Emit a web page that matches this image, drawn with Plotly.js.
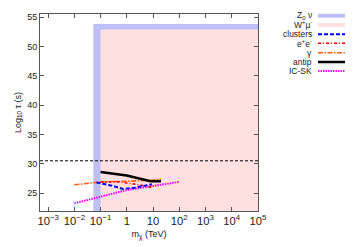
<!DOCTYPE html>
<html><head><meta charset="utf-8">
<script src="https://cdn.plot.ly/plotly-3.0.1.min.js"></script>
<style>html,body{margin:0;padding:0;background:#fff}#plot{width:356px;height:250px}</style>
</head><body><div id="plot"></div>
<script>
// Excluded regions (mass in TeV, log10 tau)
var zRegionMass = [0.053, 1e6, 1e6, 0.053];
var zRegionTau  = [0, 0, 53.85, 53.85];
var wRegionMass = [0.1, 1e6, 1e6, 0.1];
var wRegionTau  = [0, 0, 52.9, 52.9];
var ageLimit = 30.5;

var clustersMass = [0.07, 0.3, 0.7, 2, 9];
var clustersTau  = [26.8, 26.2, 25.7, 25.9, 26.5];
var eeMass = [0.1, 0.5, 1, 3, 10];
var eeTau  = [26.9, 26.9, 26.7, 26.4, 25.9];
var gammaMass = [0.01, 0.1, 1, 10, 20];
var gammaTau  = [26.4, 26.9, 27.0, 27.2, 27.4];
var antipMass = [0.1, 1, 8, 20];
var antipTau  = [28.6, 28.0, 27.0, 27.0];
var icskMass = [0.01, 0.1, 1, 10, 100];
var icskTau  = [23.25, 24.4, 25.5, 26.2, 26.9];

var legendNames = ["Z<sub>0</sub> ν", "W<sup>+</sup>μ<sup>-</sup>", "clusters", "e<sup>+</sup>e<sup>-</sup>", "γ", "antip", "IC-SK"];

var cBlue = "rgb(190,190,248)", cPink = "rgb(255,224,224)";
var styles = {
  clusters: {color: "#0000ff", width: 2, dash: "4px,2px"},
  ee: {color: "#ff0000", width: 1.6, dash: "3px,2px,1px,2px"},
  gamma: {color: "#ff6010", width: 1.6, dash: "5px,1.5px,1.5px,1.5px"},
  antip: {color: "#000000", width: 2.5, dash: "solid"},
  icsk: {color: "#ff00ff", width: 2, dash: "1.5px,1px"}
};

var traces = [
  {x: zRegionMass, y: zRegionTau, type: "scatter", mode: "lines", fill: "toself", fillcolor: cBlue, line: {width: 0}, name: "Z0 ν", hoverinfo: "skip"},
  {x: wRegionMass, y: wRegionTau, type: "scatter", mode: "lines", fill: "toself", fillcolor: cPink, line: {width: 0}, name: "W+μ-", hoverinfo: "skip"},
  {x: icskMass, y: icskTau, type: "scatter", mode: "lines", line: styles.icsk, name: "IC-SK"},
  {x: gammaMass, y: gammaTau, type: "scatter", mode: "lines", line: styles.gamma, name: "γ"},
  {x: eeMass, y: eeTau, type: "scatter", mode: "lines", line: styles.ee, name: "e+e-"},
  {x: clustersMass, y: clustersTau, type: "scatter", mode: "lines", line: styles.clusters, name: "clusters"},
  {x: antipMass, y: antipTau, type: "scatter", mode: "lines", line: styles.antip, name: "antip"}
];

var L = 40, R = 98, T = 14, B = 39, W = 356, H = 250;
var pw = W - L - R, ph = H - T - B;
function px2x(p){ return (p - L) / pw; }
function py2y(p){ return (H - B - p) / ph; }

var rowY = [15.7, 25, 34.3, 43.3, 52.7, 62, 71];
var sampleStyles = [null, null, styles.clusters, styles.ee, styles.gamma, styles.antip, styles.icsk];
var shapes = [
  {type: "line", xref: "paper", yref: "y", x0: 0, x1: 1, y0: ageLimit, y1: ageLimit, line: {color: "#000", width: 1, dash: "3px,2px"}, layer: "above"}
];
var annotations = [];
for (var i = 0; i < legendNames.length; i++) {
  annotations.push({xref: "paper", yref: "paper", x: px2x(313), y: py2y(rowY[i]), xanchor: "right", yanchor: "middle", showarrow: false, borderpad: 0, text: legendNames[i], font: {family: "Liberation Sans, Arial, sans-serif", size: 8.5, color: "#222"}});
  if (i === 0 || i === 1) {
    shapes.push({type: "rect", xref: "paper", yref: "paper", x0: px2x(318), x1: px2x(345), y0: py2y(rowY[i] + 2), y1: py2y(rowY[i] - 2), fillcolor: i === 0 ? cBlue : cPink, line: {width: 0}});
  } else {
    shapes.push({type: "line", xref: "paper", yref: "paper", x0: px2x(318), x1: px2x(345), y0: py2y(rowY[i]), y1: py2y(rowY[i]), line: sampleStyles[i]});
  }
}

var axisCommon = {showline: true, linecolor: "#555", linewidth: 1, mirror: "ticks", ticks: "inside", ticklen: 4, tickcolor: "#555", showgrid: false, zeroline: false,
  tickfont: {family: "Liberation Sans, Arial, sans-serif", size: 9, color: "#222"}};

var layout = {
  width: W, height: H, margin: {l: L, r: R, t: T, b: B},
  paper_bgcolor: "#fff", plot_bgcolor: "#fff", showlegend: false,
  font: {family: "Liberation Sans, Arial, sans-serif", size: 9, color: "#222"},
  xaxis: Object.assign({}, axisCommon, {type: "log", range: [-3.31, 5.0], dtick: 1, exponentformat: "power",
    title: {text: "m<sub>χ</sub> (TeV)", standoff: 4, font: {size: 9, color: "#222"}}}),
  yaxis: Object.assign({}, axisCommon, {range: [21.93, 55.56], dtick: 5, tick0: 0,
    title: {text: "Log<sub>10</sub> τ (s)", standoff: 4, font: {size: 9, color: "#222"}}}),
  shapes: shapes, annotations: annotations
};

Plotly.newPlot("plot", traces, layout, {staticPlot: true});
</script></body></html>
